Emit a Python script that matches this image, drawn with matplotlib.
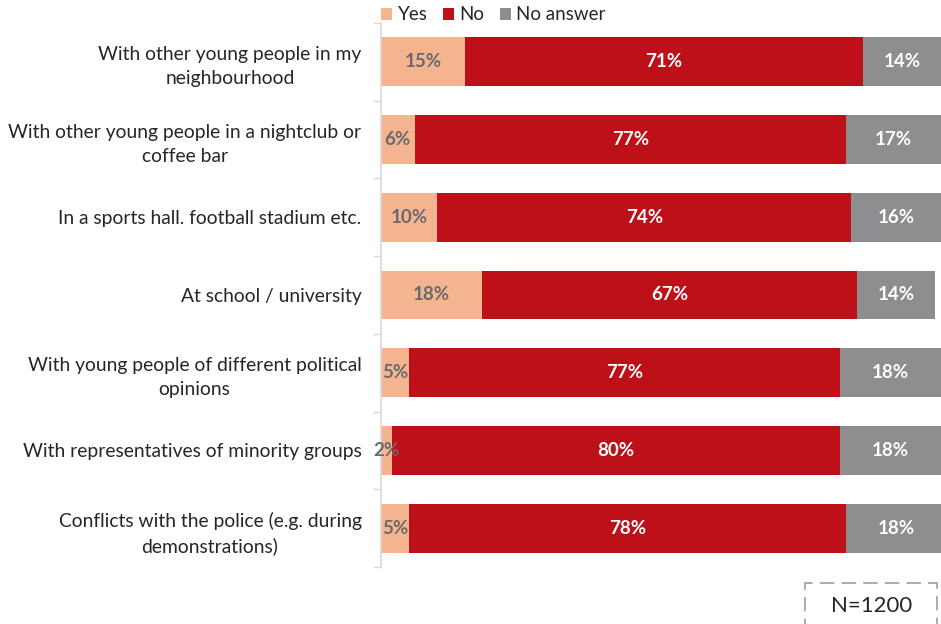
import matplotlib
matplotlib.use("Agg")
import matplotlib.pyplot as plt
from matplotlib.patches import Rectangle
import numpy as np

plt.rcParams['font.family'] = ['Lato', 'DejaVu Sans']

categories = [
    "With other young people in my\nneighbourhood",
    "With other young people in a nightclub or\ncoffee bar",
    "In a sports hall. football stadium etc.",
    "At school / university",
    "With young people of different political\nopinions",
    "With representatives of minority groups",
    "Conflicts with the police (e.g. during\ndemonstrations)",
]
yes = [15, 6, 10, 18, 5, 2, 5]
no = [71, 77, 74, 67, 77, 80, 78]
no_answer = [14, 17, 16, 14, 18, 18, 18]
series_names = ["Yes", "No", "No answer"]
colors = ["#F4B490", "#BE1019", "#8E8E90"]
label_colors = ["#6A6A6A", "white", "white"]

fig = plt.figure(figsize=(9.41, 6.24), dpi=100)
ax = fig.add_axes([381/941, 1-567/624, 560/941, 544/624])

y = np.arange(len(categories))
left = np.zeros(len(categories))
handles = []
for vals, name, c, lc in zip([yes, no, no_answer], series_names, colors, label_colors):
    vals = np.array(vals, dtype=float)
    h = ax.barh(y, vals, left=left, height=0.63, color=c, label=name, edgecolor='none')
    handles.append(h)
    for yi, l, v in zip(y, left, vals):
        ax.text(l + v/2, yi, f"{int(v)}%", ha='center', va='center', color=lc,
                fontsize=13.5, fontweight='bold')
    left += vals

ax.set_xlim(0, 100)
ax.set_ylim(len(categories)-0.5, -0.5)
ax.set_yticks(y)
ax.set_yticklabels(categories, fontsize=13.9, color='#262626',
                   multialignment='center', linespacing=1.5)
ax.tick_params(axis='y', which='major', length=0, pad=14)
ax.set_yticks(np.arange(-0.5, len(categories)), minor=True)
ax.tick_params(axis='y', which='minor', length=6, color='#D9D9D9', width=1)
ax.set_xticks([])
for s in ['top', 'right', 'bottom']:
    ax.spines[s].set_visible(False)
ax.spines['left'].set_color('#D9D9D9')
ax.spines['left'].set_linewidth(1.2)

fig.legend(handles=handles, labels=series_names, loc='center left',
           bbox_to_anchor=(381/941, 1-15/624), ncol=3, frameon=False,
           fontsize=13.5, handlelength=0.6, handleheight=0.6, handletextpad=0.3,
           columnspacing=0.8, borderaxespad=0, borderpad=0)
for t in fig.legends[0].get_texts():
    t.set_color('#262626')

W, H = 941, 624
box = Rectangle((805/W, 1-630/H), 132/W, 47/H, transform=fig.transFigure,
                facecolor='white', edgecolor='#A6A6A6', linewidth=1.3,
                linestyle=(0, (8, 4)), clip_on=False)
fig.add_artist(box)
fig.text(872/W, 1-606/H, "N=1200", ha='center', va='center', fontsize=16,
         color='#262626')

fig.savefig("out.png", dpi=100)
